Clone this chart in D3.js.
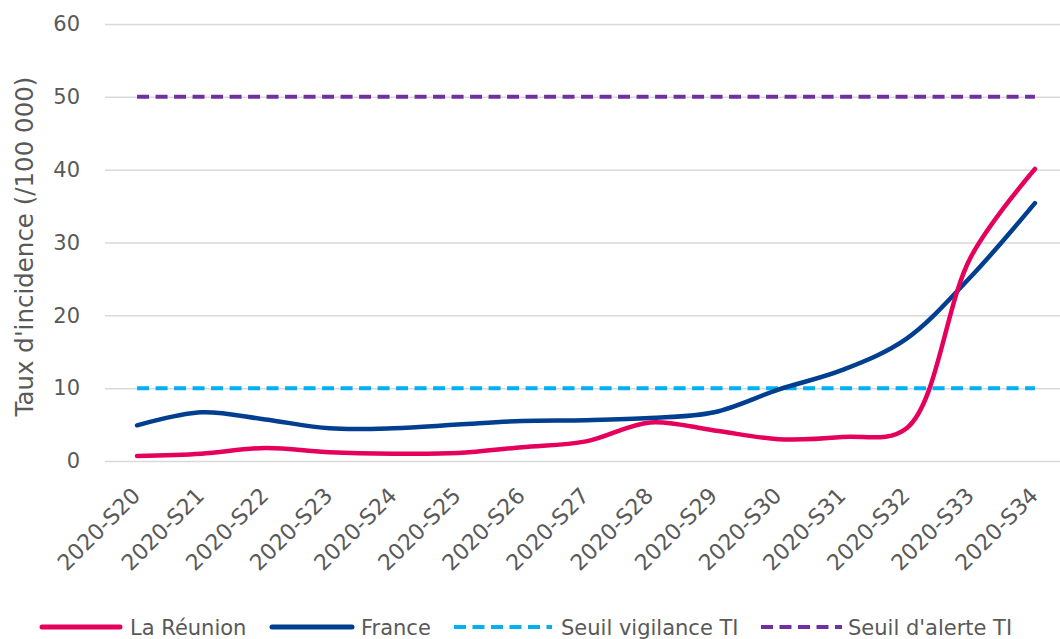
<!DOCTYPE html>
<html>
<head>
<meta charset="utf-8">
<script src="https://cdn.jsdelivr.net/npm/d3@7"></script>
<style>
	body { margin: 0; background: #fff; }
	text { font-family: "DejaVu Sans", sans-serif; fill: #595959; }
</style>
</head>
<body>
<svg id="chart"></svg>
<script>
	// data
	let categories = ["2020-S20", "2020-S21", "2020-S22", "2020-S23", "2020-S24", "2020-S25", "2020-S26",
		"2020-S27", "2020-S28", "2020-S29", "2020-S30", "2020-S31", "2020-S32", "2020-S33", "2020-S34"]
	let reunion = [0.7, 1.0, 1.8, 1.2, 1.0, 1.1, 1.9, 2.7, 5.3, 4.2, 3.0, 3.3, 4.5, 28, 40.1]
	let france = [4.9, 6.7, 5.7, 4.5, 4.5, 5.0, 5.5, 5.6, 5.9, 6.7, 9.8, 12.5, 16.8, 25.3, 35.4]
	let seuilVigilance = 10
	let seuilAlerte = 50
	let yTicks = [0, 10, 20, 30, 40, 50, 60]

	let width = 1060
	let height = 639
	let plotLeft = 105
	let plotRight = 1067
	let plotTop = 24
	let plotBottom = 461

	let chart = d3.select("#chart")
		.attr("width", width)
		.attr("height", height)

	let xScale = d3.scalePoint()
		.domain(categories)
		.range([plotLeft, plotRight])
		.padding(0.5)

	let yScale = d3.scaleLinear()
		.domain([0, 60])
		.range([plotBottom, plotTop])

	// y axis + gridlines
	let yAxis = d3.axisLeft(yScale)
		.tickValues(yTicks)
		.tickSize(-(plotRight - plotLeft))
		.tickPadding(25)

	let yAxisGlyph = chart.append("g")
		.attr("transform", "translate(" + plotLeft + ",0)")
		.call(yAxis)
	yAxisGlyph.select(".domain").remove()
	yAxisGlyph.selectAll("line").attr("stroke", "#d9d9d9").attr("stroke-width", 1.5)
	yAxisGlyph.selectAll("text")
		.style("font-size", "21px")
		.attr("fill", "#595959")
		.style("font-family", "DejaVu Sans, sans-serif")

	// x axis labels, rotated
	let xAxis = d3.axisBottom(xScale).tickSize(0).tickPadding(0)
	let xAxisGlyph = chart.append("g")
		.attr("transform", "translate(0," + plotBottom + ")")
		.call(xAxis)
	xAxisGlyph.select(".domain").remove()
	xAxisGlyph.selectAll("text")
		.style("font-size", "22px")
		.attr("fill", "#595959")
		.style("font-family", "DejaVu Sans, sans-serif")
		.attr("text-anchor", "end")
		.attr("dy", null)
		.attr("y", 0)
		.attr("transform", "translate(4,36) rotate(-45)")

	// axis title
	chart.append("text")
		.attr("transform", "translate(33," + ((70 + 423) / 2) + ") rotate(-90)")
		.attr("text-anchor", "middle")
		.style("font-size", "24.5px")
		.text("Taux d'incidence (/100 000)")

	// threshold lines
	let thresholds = [
		{ key: "Seuil vigilance TI", value: seuilVigilance, colour: "#00b0f0" },
		{ key: "Seuil d'alerte TI", value: seuilAlerte, colour: "#7030a0" }
	]
	chart.selectAll("line.seuil")
		.data(thresholds)
		.enter().append("line")
		.classed("seuil", true)
		.attr("x1", xScale(categories[0]))
		.attr("x2", xScale(categories[categories.length - 1]))
		.attr("y1", function(d){ return yScale(d.value) })
		.attr("y2", function(d){ return yScale(d.value) })
		.attr("stroke", function(d){ return d.colour })
		.attr("stroke-width", 4)
		.attr("stroke-dasharray", "12,6.5")

	// series lines
	let series = [
		{ key: "France", values: france, colour: "#003f8f" },
		{ key: "La Réunion", values: reunion, colour: "#e5005b" }
	]

	let lineGenerator = d3.line()
		.x(function(d, i){ return xScale(categories[i]) })
		.y(function(d){ return yScale(d) })
		.curve(d3.curveCatmullRom.alpha(0.5))

	chart.selectAll("path.wordline")
		.data(series)
		.enter().append("path")
		.classed("wordline", true)
		.attr("d", function(d){ return lineGenerator(d.values) })
		.style("fill", "none")
		.style("stroke", function(d){ return d.colour })
		.style("stroke-width", 4.5)
		.style("stroke-linecap", "round")

	// legend
	let legendY = 627
	let legendItems = [
		{ key: "La Réunion", colour: "#e5005b", dash: null, x1: 42, x2: 120, tx: 130 },
		{ key: "France", colour: "#003f8f", dash: null, x1: 272, x2: 352, tx: 361 },
		{ key: "Seuil vigilance TI", colour: "#00b0f0", dash: "12,6.5", x1: 454, x2: 552, tx: 561 },
		{ key: "Seuil d'alerte TI", colour: "#7030a0", dash: "12,6.5", x1: 761, x2: 842, tx: 848 }
	]
	let legend = chart.selectAll("g.legend")
		.data(legendItems)
		.enter().append("g")
		.classed("legend", true)
	legend.append("line")
		.attr("x1", function(d){ return d.x1 })
		.attr("x2", function(d){ return d.x2 })
		.attr("y1", legendY)
		.attr("y2", legendY)
		.attr("stroke", function(d){ return d.colour })
		.attr("stroke-width", function(d){ return d.dash ? 4 : 5 })
		.attr("stroke-dasharray", function(d){ return d.dash })
		.attr("stroke-linecap", function(d){ return d.dash ? "butt" : "round" })
	legend.append("text")
		.attr("x", function(d){ return d.tx })
		.attr("y", legendY)
		.attr("dy", "0.36em")
		.style("font-size", "21px")
		.text(function(d){ return d.key })
</script>
</body>
</html>
